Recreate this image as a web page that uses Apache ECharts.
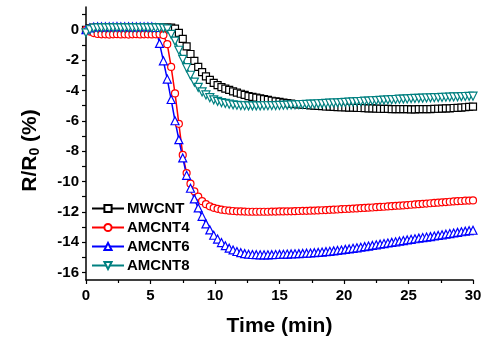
<!DOCTYPE html>
<html>
<head>
<meta charset="utf-8">
<script src="https://cdn.jsdelivr.net/npm/echarts@6/dist/echarts.min.js"></script>
<style>
  html, body { margin: 0; padding: 0; background: #fff; }
  #chart { width: 489px; height: 338px; }
</style>
</head>
<body>
<div id="chart"></div>
<script>
// time axis (min), one sample every 0.3 min
var times = [
  0, 0.3, 0.6, 0.9, 1.2, 1.5, 1.8, 2.1, 2.4, 2.7,
  3.0, 3.3, 3.6, 3.9, 4.2, 4.5, 4.8, 5.1, 5.4, 5.7,
  6.0, 6.3, 6.6, 6.9, 7.2, 7.5, 7.8, 8.1, 8.4, 8.7,
  9.0, 9.3, 9.6, 9.9, 10.2, 10.5, 10.8, 11.1, 11.4, 11.7,
  12.0, 12.3, 12.6, 12.9, 13.2, 13.5, 13.8, 14.1, 14.4, 14.7,
  15.0, 15.3, 15.6, 15.9, 16.2, 16.5, 16.8, 17.1, 17.4, 17.7,
  18.0, 18.3, 18.6, 18.9, 19.2, 19.5, 19.8, 20.1, 20.4, 20.7,
  21.0, 21.3, 21.6, 21.9, 22.2, 22.5, 22.8, 23.1, 23.4, 23.7,
  24.0, 24.3, 24.6, 24.9, 25.2, 25.5, 25.8, 26.1, 26.4, 26.7,
  27.0, 27.3, 27.6, 27.9, 28.2, 28.5, 28.8, 29.1, 29.4, 29.7,
  30.0
];

var mwcnt = [
  0.0, 0.1, 0.15, 0.15, 0.16, 0.15, 0.15, 0.16, 0.15, 0.15,
  0.15, 0.16, 0.15, 0.15, 0.15, 0.16, 0.15, 0.15, 0.16, 0.15,
  0.15, 0.15, 0.14, 0.08, -0.2, -0.6, -1.1, -1.6, -2.05, -2.45,
  -2.8, -3.07, -3.3, -3.5, -3.65, -3.78, -3.88, -3.97, -4.06, -4.14,
  -4.22, -4.3, -4.37, -4.43, -4.48, -4.53, -4.58, -4.63, -4.68, -4.72,
  -4.76, -4.8, -4.84, -4.87, -4.9, -4.92, -4.94, -4.96, -4.98, -5.0,
  -5.02, -5.04, -5.06, -5.07, -5.09, -5.1, -5.11, -5.12, -5.13, -5.14,
  -5.15, -5.16, -5.17, -5.18, -5.19, -5.2, -5.21, -5.22, -5.22, -5.23,
  -5.23, -5.24, -5.24, -5.24, -5.25, -5.25, -5.24, -5.24, -5.23, -5.23,
  -5.22, -5.21, -5.2, -5.19, -5.18, -5.16, -5.15, -5.13, -5.11, -5.09,
  -5.07
];

var amcnt4 = [
  0.0, -0.12, -0.22, -0.28, -0.3, -0.3, -0.32, -0.3, -0.29, -0.31,
  -0.3, -0.32, -0.3, -0.29, -0.31, -0.3, -0.3, -0.31, -0.3, -0.3,
  -0.35, -0.95, -2.45, -4.2, -6.2, -8.25, -9.45, -10.15, -10.65, -11.0,
  -11.3, -11.5, -11.64, -11.74, -11.81, -11.86, -11.9, -11.93, -11.95, -11.97,
  -11.98, -11.99, -12.0, -12.0, -12.0, -12.0, -12.0, -12.0, -11.99, -11.99,
  -11.98, -11.98, -11.97, -11.97, -11.96, -11.95, -11.94, -11.94, -11.93, -11.92,
  -11.91, -11.9, -11.89, -11.87, -11.86, -11.85, -11.83, -11.82, -11.81, -11.79,
  -11.78, -11.76, -11.75, -11.73, -11.72, -11.7, -11.68, -11.67, -11.65, -11.63,
  -11.61, -11.6, -11.58, -11.56, -11.54, -11.52, -11.5, -11.48, -11.46, -11.44,
  -11.42, -11.4, -11.38, -11.36, -11.34, -11.32, -11.3, -11.29, -11.27, -11.26,
  -11.25
];

var amcnt6 = [
  0.0, 0.12, 0.18, 0.2, 0.2, 0.19, 0.2, 0.2, 0.21, 0.2,
  0.2, 0.2, 0.19, 0.2, 0.2, 0.2, 0.2, 0.19, 0.15, -0.9,
  -2.05, -3.25, -4.6, -6.0, -7.25, -8.45, -9.6, -10.45, -11.15, -11.75,
  -12.3, -12.8, -13.2, -13.55, -13.8, -14.03, -14.24, -14.4, -14.52, -14.62,
  -14.7, -14.76, -14.8, -14.82, -14.83, -14.84, -14.84, -14.84, -14.83, -14.82,
  -14.81, -14.8, -14.79, -14.78, -14.77, -14.76, -14.75, -14.73, -14.72, -14.7,
  -14.68, -14.66, -14.63, -14.61, -14.58, -14.55, -14.52, -14.48, -14.45, -14.41,
  -14.38, -14.34, -14.3, -14.26, -14.22, -14.18, -14.14, -14.1, -14.06, -14.02,
  -13.98, -13.94, -13.9, -13.86, -13.82, -13.78, -13.74, -13.7, -13.67, -13.64,
  -13.6, -13.56, -13.52, -13.48, -13.44, -13.4, -13.36, -13.32, -13.28, -13.25,
  -13.22
];

var amcnt8 = [
  -0.2, 0.0, 0.1, 0.12, 0.12, 0.13, 0.12, 0.12, 0.13, 0.12,
  0.12, 0.13, 0.12, 0.12, 0.12, 0.13, 0.12, 0.12, 0.12, 0.12,
  0.1, 0.05, -0.3, -0.75, -1.35, -1.95, -2.5, -3.0, -3.45, -3.8,
  -4.1, -4.3, -4.48, -4.62, -4.72, -4.8, -4.86, -4.91, -4.95, -4.98,
  -5.0, -5.01, -5.02, -5.02, -5.02, -5.02, -5.01, -5.01, -5.0, -5.0,
  -4.99, -4.98, -4.97, -4.96, -4.95, -4.94, -4.93, -4.92, -4.91, -4.9,
  -4.88, -4.87, -4.86, -4.84, -4.83, -4.82, -4.8, -4.79, -4.77, -4.76,
  -4.74, -4.73, -4.71, -4.7, -4.68, -4.67, -4.65, -4.64, -4.62, -4.61,
  -4.6, -4.58, -4.57, -4.56, -4.54, -4.53, -4.52, -4.51, -4.5, -4.49,
  -4.48, -4.47, -4.46, -4.45, -4.44, -4.43, -4.42, -4.41, -4.4, -4.39,
  -4.38
];

var seriesNames = ['MWCNT', 'AMCNT4', 'AMCNT6', 'AMCNT8'];
var seriesValues = [mwcnt, amcnt4, amcnt6, amcnt8];
var seriesColors = ['#000000', '#ff0000', '#0000ff', '#008080'];
var seriesSymbols = ['rect', 'circle', 'triangle', 'triangle'];
var symbolSizes = [7, 7, 8, 8];
var symbolRotates = [0, 0, 0, 180];

var yLabels = [0, -2, -4, -6, -8, -10, -12, -14, -16];
var yTicks = [1, 0, -1, -2, -3, -4, -5, -6, -7, -8, -9, -10, -11, -12, -13, -14, -15, -16];

var FONT = '"Liberation Sans", Arial, sans-serif';

function pairs(vals) {
  return times.map(function (t, i) { return [t, vals[i]]; });
}

var series = seriesNames.map(function (name, k) {
  return {
    name: name,
    type: 'line',
    data: pairs(seriesValues[k]),
    symbol: seriesSymbols[k],
    symbolSize: symbolSizes[k],
    symbolRotate: symbolRotates[k],
    showAllSymbol: true,
    animation: false,
    lineStyle: { color: seriesColors[k], width: 1.5 },
    itemStyle: { color: '#ffffff', borderColor: seriesColors[k], borderWidth: 1.2 },
    emphasis: { disabled: true }
  };
});

var myChart = echarts.init(document.getElementById('chart'), null, { renderer: 'canvas' });

myChart.setOption({
  backgroundColor: '#ffffff',
  animation: false,
  grid: { left: 86, right: 16, top: 7, bottom: 58, containLabel: false, outerBoundsMode: 'none' },
  legend: {
    orient: 'vertical',
    left: 86,
    top: 196,
    itemWidth: 32,
    itemHeight: 9,
    itemGap: 4,
    data: seriesNames,
    textStyle: { fontFamily: FONT, fontWeight: 'bold', fontSize: 15, color: '#000', padding: [0, 0, 0, -2] }
  },
  xAxis: {
    type: 'value',
    min: 0,
    max: 30,
    interval: 5,
    name: 'Time (min)',
    nameLocation: 'middle',
    nameGap: 36,
    nameTextStyle: { fontFamily: FONT, fontWeight: 'bold', fontSize: 21, color: '#000' },
    axisLine: { onZero: false, lineStyle: { color: '#000', width: 1.5 } },
    axisTick: { inside: false, length: 4, lineStyle: { color: '#000', width: 1.2 } },
    minorTick: { show: true, splitNumber: 2, length: 3, lineStyle: { color: '#000', width: 1.2 } },
    axisLabel: { fontFamily: FONT, fontWeight: 'bold', fontSize: 15, color: '#000', margin: 8 },
    splitLine: { show: false }
  },
  yAxis: {
    type: 'value',
    min: -16.5,
    max: 1.5,
    name: '{a|R/R}{b|0}{a| (%)}',
    nameLocation: 'middle',
    nameGap: 44,
    nameRotate: 90,
    nameTextStyle: {
      padding: [0, 14, 0, 0],
      rich: {
        a: { fontFamily: FONT, fontWeight: 'bold', fontSize: 21, color: '#000' },
        b: { fontFamily: FONT, fontWeight: 'bold', fontSize: 14, color: '#000', padding: [10, 0, 0, 0] }
      }
    },
    axisLine: { onZero: false, lineStyle: { color: '#000', width: 1.5 } },
    axisTick: { inside: false, length: 4, customValues: yTicks, lineStyle: { color: '#000', width: 1.2 } },
    axisLabel: { fontFamily: FONT, fontWeight: 'bold', fontSize: 15, color: '#000', margin: 7, customValues: yLabels },
    splitLine: { show: false }
  },
  series: series
});
</script>
</body>
</html>
